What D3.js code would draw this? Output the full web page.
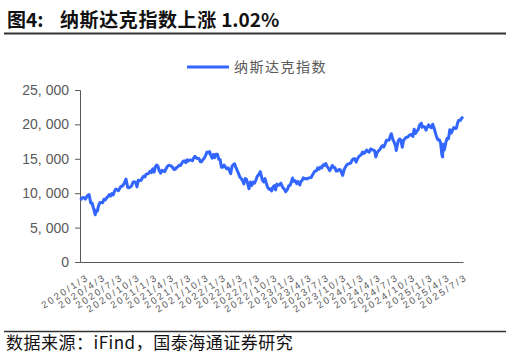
<!DOCTYPE html>
<html>
<head>
<meta charset="utf-8">
<script src="https://cdn.jsdelivr.net/npm/d3@7"></script>
<style>
  body { margin: 0; background: #fff; }
  svg { display: block; }
  .cjk { font-family: "Noto Sans CJK SC", sans-serif; }
</style>
</head>
<body>
<div id="chart"></div>
<script>
(function() {

  // ---------------------------data---------------------------//
  var dates = [
    "2020-01-03","2020-01-10","2020-01-17","2020-01-24","2020-01-31","2020-02-07","2020-02-14","2020-02-19","2020-02-28",
    "2020-03-06","2020-03-13","2020-03-23","2020-03-27","2020-04-03","2020-04-09","2020-04-17","2020-04-24","2020-05-01",
    "2020-05-08","2020-05-15","2020-05-22","2020-05-29","2020-06-05","2020-06-12","2020-06-19","2020-06-26","2020-07-02",
    "2020-07-10","2020-07-17","2020-07-24","2020-07-31","2020-08-07","2020-08-14","2020-08-21","2020-08-28","2020-09-02",
    "2020-09-11","2020-09-18","2020-09-25","2020-10-02","2020-10-09","2020-10-16","2020-10-23","2020-10-30","2020-11-06",
    "2020-11-13","2020-11-20","2020-11-27","2020-12-04","2020-12-11","2020-12-18","2020-12-24","2020-12-31",
    "2021-01-08","2021-01-15","2021-01-22","2021-01-29","2021-02-05","2021-02-12","2021-02-19","2021-02-26","2021-03-05",
    "2021-03-12","2021-03-19","2021-03-26","2021-04-01","2021-04-09","2021-04-16","2021-04-23","2021-04-30","2021-05-07",
    "2021-05-14","2021-05-21","2021-05-28","2021-06-04","2021-06-11","2021-06-18","2021-06-25","2021-07-02","2021-07-09",
    "2021-07-16","2021-07-23","2021-07-30","2021-08-06","2021-08-13","2021-08-20","2021-08-27","2021-09-03","2021-09-10",
    "2021-09-17","2021-09-24","2021-10-01","2021-10-08","2021-10-15","2021-10-22","2021-10-29","2021-11-05","2021-11-12",
    "2021-11-19","2021-11-26","2021-12-03","2021-12-10","2021-12-17","2021-12-23","2021-12-31",
    "2022-01-07","2022-01-14","2022-01-21","2022-01-28","2022-02-04","2022-02-11","2022-02-18","2022-02-25","2022-03-04",
    "2022-03-11","2022-03-18","2022-03-25","2022-04-01","2022-04-08","2022-04-14","2022-04-22","2022-04-29","2022-05-06",
    "2022-05-13","2022-05-20","2022-05-27","2022-06-03","2022-06-10","2022-06-16","2022-06-24","2022-07-01","2022-07-08",
    "2022-07-15","2022-07-22","2022-07-29","2022-08-05","2022-08-15","2022-08-19","2022-08-26","2022-09-02","2022-09-09",
    "2022-09-16","2022-09-23","2022-09-30","2022-10-07","2022-10-14","2022-10-21","2022-10-28","2022-11-04","2022-11-11",
    "2022-11-18","2022-11-25","2022-12-02","2022-12-09","2022-12-16","2022-12-23","2022-12-28",
    "2023-01-06","2023-01-13","2023-01-20","2023-01-27","2023-02-02","2023-02-10","2023-02-17","2023-02-24","2023-03-03",
    "2023-03-13","2023-03-17","2023-03-24","2023-03-31","2023-04-06","2023-04-14","2023-04-21","2023-04-28","2023-05-05",
    "2023-05-12","2023-05-19","2023-05-26","2023-06-02","2023-06-09","2023-06-16","2023-06-23","2023-06-30","2023-07-07",
    "2023-07-14","2023-07-21","2023-07-28","2023-08-04","2023-08-11","2023-08-18","2023-08-25","2023-09-01","2023-09-08",
    "2023-09-15","2023-09-22","2023-09-29","2023-10-06","2023-10-13","2023-10-20","2023-10-26","2023-11-03","2023-11-10",
    "2023-11-17","2023-11-24","2023-12-01","2023-12-08","2023-12-15","2023-12-22","2023-12-29",
    "2024-01-05","2024-01-12","2024-01-19","2024-01-26","2024-02-02","2024-02-09","2024-02-16","2024-02-23","2024-03-01",
    "2024-03-08","2024-03-15","2024-03-22","2024-03-28","2024-04-05","2024-04-12","2024-04-19","2024-04-26","2024-05-03",
    "2024-05-10","2024-05-17","2024-05-24","2024-05-31","2024-06-07","2024-06-14","2024-06-21","2024-06-28","2024-07-05",
    "2024-07-10","2024-07-19","2024-07-26","2024-08-02","2024-08-05","2024-08-09","2024-08-16","2024-08-23","2024-08-30",
    "2024-09-06","2024-09-13","2024-09-20","2024-09-27","2024-10-04","2024-10-11","2024-10-18","2024-10-25","2024-11-01",
    "2024-11-08","2024-11-15","2024-11-22","2024-11-29","2024-12-06","2024-12-16","2024-12-20","2024-12-27",
    "2025-01-03","2025-01-10","2025-01-17","2025-01-24","2025-01-31","2025-02-07","2025-02-14","2025-02-21","2025-02-28",
    "2025-03-07","2025-03-14","2025-03-21","2025-03-28","2025-04-04","2025-04-08","2025-04-09","2025-04-17","2025-04-25",
    "2025-05-02","2025-05-09","2025-05-16","2025-05-23","2025-05-30","2025-06-06","2025-06-13","2025-06-20","2025-06-27",
    "2025-07-03","2025-07-11","2025-07-18","2025-07-25"
  ];
  var nasdaq = [
    9021,9179,9388,9315,9151,9521,9731,9817,8567,
    8575,7875,6861,7502,7373,8153,8650,8634,8605,
    9121,9015,9325,9490,9814,9589,9946,9757,10208,
    10617,10503,10363,10745,11011,11019,11312,11696,12056,
    10854,10793,10914,11075,11580,11672,11548,10912,11895,
    11830,11855,12206,12464,12378,12756,12805,12888,
    13202,12998,13543,13071,13856,14095,13874,13192,12920,
    13320,13215,13139,13480,13900,14052,14016,13962,13752,
    13430,13471,13749,13814,14069,14030,14360,14639,14701,
    14427,14837,14673,14835,14823,14715,15129,15363,15115,
    15044,15048,14567,14580,14897,15090,15498,15971,15861,
    16057,15491,15085,15630,15170,15653,15645,
    14936,14894,13768,13770,14098,13791,13548,13694,13313,
    12843,13893,14169,14261,13711,13351,12839,12335,12145,
    11805,11354,12131,12013,11340,10647,11608,11128,11635,
    11452,11834,12391,12657,13128,12705,11902,11631,12112,
    11448,10868,10576,10652,10321,10860,11102,10475,11323,
    11146,11226,11461,11005,10705,10498,10213,
    10569,11079,11140,11622,12201,11718,11787,11395,11689,
    11188,11631,11824,12222,12088,12124,12073,12227,12235,
    12285,12658,12976,13241,13259,13689,13492,13788,13661,
    14113,14032,14317,13909,13645,13290,13590,14031,13762,
    13708,13212,13219,13431,13407,12984,12595,13478,13798,
    14125,14250,14305,14404,14814,14992,15011,
    14524,14973,15311,15455,15629,15990,15776,15997,16275,
    16085,15973,16429,16379,16249,16175,15282,15928,16156,
    16341,16686,16921,16735,17133,17689,17689,17733,18353,
    18647,17727,17358,16776,16200,16745,17632,17877,17714,
    16691,17684,17948,18119,18138,18343,18490,18519,18240,
    19287,18680,19004,19218,19860,20173,19573,19722,
    19622,19162,19630,19954,19627,19523,20027,19524,18847,
    18196,17754,17784,17323,15588,15268,17125,16286,17383,
    17978,17929,19212,18737,19114,19530,19407,19447,20273,
    20601,20586,20896,21108
  ];
  var yTicks = [0, 5000, 10000, 15000, 20000, 25000];
  var xTickLabels = [
    "2020/1/3","2020/4/3","2020/7/3","2020/10/3","2021/1/3","2021/4/3","2021/7/3","2021/10/3",
    "2022/1/3","2022/4/3","2022/7/3","2022/10/3","2023/1/3","2023/4/3","2023/7/3","2023/10/3",
    "2024/1/3","2024/4/3","2024/7/3","2024/10/3","2025/1/3","2025/4/3","2025/7/3"
  ];
  var seriesName = "纳斯达克指数";

  var W = 512, H = 358;
  var left = 80, right = 463, top = 90, bottom = 262;
  var parse = d3.timeParse("%Y-%m-%d");
  var parseLabel = d3.timeParse("%Y/%m/%d");

  var rows = dates.map(function(d, i) { return { date: parse(d), value: nasdaq[i] }; });

  var svg = d3.select("#chart").append("svg")
      .attr("width", W).attr("height", H);

  // title
  var title = svg.append("text").attr("class", "cjk")
      .attr("x", 7).attr("y", 27)
      .attr("font-size", 19).attr("font-weight", "bold").attr("fill", "#111");
  title.append("tspan").text("图4:");
  title.append("tspan").attr("x", 60).attr("letter-spacing", 0.6).text("纳斯达克指数上涨");
  title.append("tspan").text(" 1.02%");
  svg.append("line").attr("x1", 4).attr("x2", 506).attr("y1", 33.5).attr("y2", 33.5)
      .attr("stroke", "#333").attr("stroke-width", 2);

  var x = d3.scaleTime()
      .domain([parse("2020-01-02"), rows[rows.length - 1].date])
      .range([left, right]);
  var y = d3.scaleLinear().domain([0, 25000]).range([bottom, top]);

  // y axis
  var yAxis = svg.append("g")
      .attr("transform", "translate(" + left + ",0)")
      .call(d3.axisLeft(y).tickValues(yTicks).tickSize(5).tickPadding(6)
        .tickFormat(function(d) { return d3.format(",")(d).replace(",", ", "); }));
  yAxis.select(".domain").attr("stroke", "#595959");
  yAxis.selectAll(".tick line").attr("stroke", "#595959");
  yAxis.selectAll("text").attr("fill", "#595959")
      .attr("font-family", "Arial, 'Liberation Sans', sans-serif").attr("font-size", 14);

  // x axis
  var xAxis = svg.append("g")
      .attr("transform", "translate(0," + bottom + ")")
      .call(d3.axisBottom(x).tickValues(xTickLabels.map(function(s) { return parseLabel(s); }))
        .tickSize(0).tickFormat(function(d, i) { return xTickLabels[i]; }));
  xAxis.select(".domain").attr("stroke", "#595959");
  xAxis.selectAll("text")
      .attr("fill", "#595959")
      .attr("font-family", "Arial, 'Liberation Sans', sans-serif").attr("font-size", 9.5)
      .attr("letter-spacing", 2.2)
      .attr("text-anchor", "end")
      .attr("x", 0).attr("y", 0).attr("dy", 0)
      .attr("transform", "translate(9,17) rotate(-33)");

  // line
  var line = d3.line()
      .x(function(d) { return x(d.date); })
      .y(function(d) { return y(d.value); });
  svg.append("path").datum(rows)
      .attr("d", line)
      .attr("fill", "none")
      .attr("stroke", "#3366ff")
      .attr("stroke-width", 3)
      .attr("stroke-linejoin", "round");

  // legend
  svg.append("line").attr("x1", 187).attr("x2", 229).attr("y1", 67).attr("y2", 67)
      .attr("stroke", "#3366ff").attr("stroke-width", 3);
  svg.append("text").attr("class", "cjk")
      .attr("x", 234).attr("y", 72)
      .attr("font-size", 14).attr("fill", "#595959").attr("letter-spacing", 1.5)
      .text(seriesName);

  // footer
  svg.append("line").attr("x1", 4).attr("x2", 506).attr("y1", 331.5).attr("y2", 331.5)
      .attr("stroke", "#333").attr("stroke-width", 1.5);
  svg.append("text").attr("class", "cjk")
      .attr("x", 6).attr("y", 349)
      .attr("font-size", 17).attr("fill", "#111").attr("letter-spacing", 0.5)
      .text("数据来源：iFind，国泰海通证券研究");

}());
</script>
</body>
</html>
